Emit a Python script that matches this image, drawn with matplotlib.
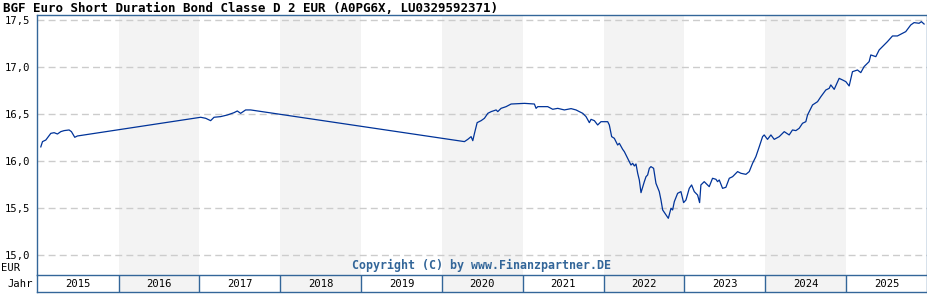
import matplotlib
matplotlib.use("Agg")
import matplotlib.pyplot as plt

# price history (decimal year, EUR)
years = [2015.037, 2015.058, 2015.099, 2015.161, 2015.202, 2015.243, 2015.284, 2015.325,
         2015.387, 2015.416, 2015.457, 2015.490, 2017.015, 2017.077, 2017.138, 2017.180,
         2017.262, 2017.344, 2017.427, 2017.468, 2017.509, 2017.571, 2017.633, 2020.278,
         2020.319, 2020.360, 2020.381, 2020.402, 2020.435, 2020.484, 2020.525, 2020.567,
         2020.608, 2020.670, 2020.690, 2020.731, 2020.793, 2020.855, 2021.020, 2021.143,
         2021.164, 2021.185, 2021.308, 2021.370, 2021.432, 2021.514, 2021.597, 2021.658,
         2021.741, 2021.782, 2021.823, 2021.844, 2021.885, 2021.926, 2021.967, 2022.050,
         2022.070, 2022.099, 2022.132, 2022.173, 2022.194, 2022.235, 2022.256, 2022.297,
         2022.338, 2022.359, 2022.380, 2022.400, 2022.421, 2022.441, 2022.462, 2022.503,
         2022.524, 2022.544, 2022.565, 2022.585, 2022.618, 2022.647, 2022.688, 2022.709,
         2022.730, 2022.771, 2022.800, 2022.833, 2022.853, 2022.874, 2022.915, 2022.956,
         2022.989, 2023.018, 2023.059, 2023.088, 2023.121, 2023.162, 2023.187, 2023.203,
         2023.244, 2023.265, 2023.306, 2023.347, 2023.389, 2023.409, 2023.430, 2023.471,
         2023.512, 2023.554, 2023.595, 2023.657, 2023.698, 2023.760, 2023.801, 2023.842,
         2023.883, 2023.912, 2023.925, 2023.966, 2023.986, 2024.027, 2024.069, 2024.110,
         2024.172, 2024.234, 2024.295, 2024.336, 2024.378, 2024.419, 2024.460, 2024.501,
         2024.522, 2024.584, 2024.646, 2024.687, 2024.748, 2024.790, 2024.810, 2024.852,
         2024.913, 2024.955, 2024.996, 2025.037, 2025.078, 2025.140, 2025.181, 2025.222,
         2025.284, 2025.305, 2025.367, 2025.408, 2025.449, 2025.511, 2025.573, 2025.634,
         2025.696, 2025.737, 2025.799, 2025.840, 2025.902, 2025.931, 2025.964]
prices = [16.150, 16.206, 16.223, 16.294, 16.301, 16.287, 16.312, 16.323,
          16.330, 16.312, 16.252, 16.266, 16.465, 16.454, 16.429, 16.465,
          16.472, 16.489, 16.514, 16.532, 16.507, 16.543, 16.543, 16.206,
          16.230, 16.259, 16.216, 16.294, 16.408, 16.429, 16.454, 16.507,
          16.525, 16.543, 16.525, 16.560, 16.578, 16.606, 16.613, 16.606,
          16.560, 16.578, 16.578, 16.550, 16.560, 16.543, 16.557, 16.543,
          16.507, 16.472, 16.408, 16.443, 16.429, 16.383, 16.418, 16.418,
          16.383, 16.259, 16.241, 16.170, 16.188, 16.124, 16.099, 16.028,
          15.957, 15.975, 15.947, 15.968, 15.869, 15.798, 15.663, 15.780,
          15.833, 15.851, 15.922, 15.940, 15.922, 15.762, 15.674, 15.585,
          15.479, 15.426, 15.390, 15.497, 15.479, 15.567, 15.656, 15.674,
          15.557, 15.585, 15.709, 15.745, 15.674, 15.638, 15.557, 15.745,
          15.780, 15.762, 15.727, 15.816, 15.805, 15.780, 15.798, 15.709,
          15.720, 15.816, 15.833, 15.887, 15.869, 15.858, 15.887, 15.975,
          16.046, 16.117, 16.152, 16.259, 16.277, 16.230, 16.277, 16.230,
          16.259, 16.312, 16.277, 16.330, 16.323, 16.348, 16.401, 16.418,
          16.489, 16.596, 16.631, 16.684, 16.755, 16.773, 16.809, 16.762,
          16.879, 16.862, 16.844, 16.798, 16.950, 16.968, 16.940, 17.004,
          17.057, 17.128, 17.110, 17.181, 17.216, 17.270, 17.330, 17.330,
          17.358, 17.376, 17.447, 17.472, 17.465, 17.482, 17.457]

year_labels = list(range(2015, 2026))
y_ticks = [15.0, 15.5, 16.0, 16.5, 17.0, 17.5]
title = "BGF Euro Short Duration Bond Classe D 2 EUR (A0PG6X, LU0329592371)"

W, H = 928, 300
frame = "#336699"
shade = "#f3f3f3"
mono = "DejaVu Sans Mono"
x0, x1 = 2014.99, 2026.0

fig = plt.figure(figsize=(W / 100, H / 100), dpi=100)
fig.patch.set_facecolor("white")

# main chart
ax = fig.add_axes([37 / W, 1 - 275 / H, 890 / W, 260 / H])
ax.set_xlim(x0, x1)
ax.set_ylim(14.787, 17.553)
for yr in year_labels:
    if yr % 2 == 0:
        ax.axvspan(yr, yr + 1, color=shade, lw=0, zorder=0)
for v in y_ticks:
    ax.axhline(v, color="#cccccc", lw=1, ls=(0, (5, 3)), zorder=1)
ax.plot(years, prices, color="#003399", lw=0.9, zorder=3)
ax.set_xticks([])
ax.set_yticks(y_ticks)
ax.set_yticklabels([f"{v:.1f}".replace(".", ",") for v in y_ticks],
                   fontsize=7.6, family=mono)
ax.tick_params(axis="y", length=0, pad=5)
for s in ["left", "top", "right"]:
    ax.spines[s].set_color(frame)
    ax.spines[s].set_linewidth(1)
ax.spines["bottom"].set_visible(False)
ax.text(0.5, 0.01, "Copyright (C) by www.Finanzpartner.DE", transform=ax.transAxes,
        ha="center", va="bottom", fontsize=8.4, family=mono, weight="bold",
        color=frame, zorder=4)

# year row
yax = fig.add_axes([37 / W, 1 - 292 / H, 890 / W, 17 / H])
yax.set_xlim(x0, x1)
yax.set_ylim(0, 1)
for yr in year_labels:
    if yr % 2 == 0:
        yax.axvspan(yr, yr + 1, color=shade, lw=0, zorder=0)
    if yr > year_labels[0]:
        yax.axvline(yr, color=frame, lw=1)
    yax.text(yr + 0.5, 0.45, str(yr), ha="center", va="center",
             fontsize=7.6, family=mono)
yax.set_xticks([])
yax.set_yticks([])
for s in yax.spines.values():
    s.set_color(frame)
    s.set_linewidth(1)

fig.text(3 / W, 1 - 9 / H, title, ha="left", va="center", fontsize=9,
         family=mono, weight="bold")
fig.text(1 / W, 1 - 268 / H, "EUR", ha="left", va="center", fontsize=7.6, family=mono)
fig.text(7 / W, 1 - 284 / H, "Jahr", ha="left", va="center", fontsize=7.6, family=mono)

fig.savefig("out.png", dpi=100)
